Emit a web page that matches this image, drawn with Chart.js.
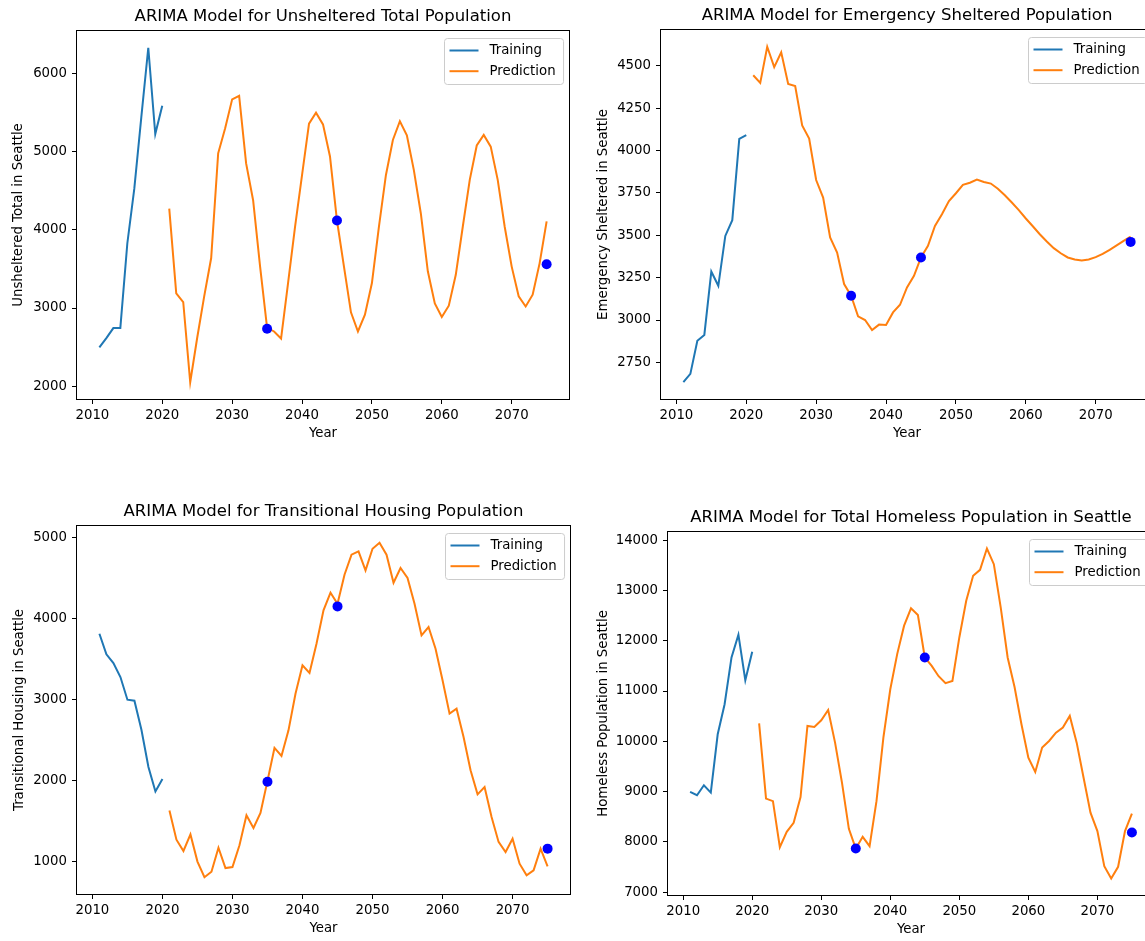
<!DOCTYPE html>
<html>
<head>
<meta charset="utf-8">
<script src="https://cdn.jsdelivr.net/npm/chart.js@4.4.1/dist/chart.umd.min.js"></script>
<style>
  body { margin: 0; background: #fff; overflow: hidden; width: 1145px; height: 941px; position: relative; }
  canvas { position: absolute; }
</style>
</head>
<body>
<canvas id="c1"></canvas>
<canvas id="c2"></canvas>
<canvas id="c3"></canvas>
<canvas id="c4"></canvas>
<script>
// Años
const trainYears = [2011, 2012, 2013, 2014, 2015, 2016, 2017, 2018, 2019, 2020];
const predYears = [
  2021, 2022, 2023, 2024, 2025, 2026, 2027, 2028, 2029, 2030,
  2031, 2032, 2033, 2034, 2035, 2036, 2037, 2038, 2039, 2040,
  2041, 2042, 2043, 2044, 2045, 2046, 2047, 2048, 2049, 2050,
  2051, 2052, 2053, 2054, 2055, 2056, 2057, 2058, 2059, 2060,
  2061, 2062, 2063, 2064, 2065, 2066, 2067, 2068, 2069, 2070,
  2071, 2072, 2073, 2074, 2075
];
const dotYears = [2035, 2045, 2075];
const xTicks = [2010, 2020, 2030, 2040, 2050, 2060, 2070];

// Unsheltered
const unshelteredTrain = [2497, 2616, 2743, 2743, 3826, 4527, 5439, 6331, 5227, 5588];
const unshelteredPred = [
  4272, 3189, 3077, 2050, 2620, 3150, 3640, 4980, 5300, 5670,
  5715, 4850, 4380, 3530, 2745, 2700, 2610, 3320, 4040, 4700,
  5360, 5500, 5350, 4940, 4120, 3530, 2945, 2700, 2915, 3320,
  4040, 4700, 5150, 5390, 5210, 4765, 4210, 3470, 3060, 2885,
  3030, 3425, 4040, 4640, 5080, 5215, 5065, 4640, 4040, 3530,
  3150, 3020, 3170, 3575, 4110
];
const unshelteredDots = [2735, 4120, 3560];
const unshelteredTicks = [2000, 3000, 4000, 5000, 6000];

// Emergency sheltered
const emergencyTrain = [2633, 2682, 2878, 2912, 3286, 3202, 3496, 3589, 4069, 4091];
const emergencyPred = [
  4444, 4399, 4612, 4492, 4579, 4393, 4380, 4148, 4071, 3826,
  3722, 3487, 3398, 3212, 3143, 3022, 3000, 2941, 2973, 2971,
  3045, 3090, 3192, 3261, 3369, 3438, 3555, 3624, 3702, 3748,
  3797, 3810, 3828, 3814, 3805, 3775, 3736, 3693, 3648, 3599,
  3553, 3506, 3463, 3424, 3394, 3369, 3357, 3351, 3357, 3371,
  3390, 3414, 3440, 3467, 3492
];
const emergencyDots = [3143, 3369, 3461];
const emergencyTicks = [2750, 3000, 3250, 3500, 3750, 4000, 4250, 4500];

// Transitional housing
const transitionalTrain = [3815, 3560, 3453, 3281, 3001, 2989, 2631, 2171, 1870, 2022];
const transitionalPred = [
  1634, 1275, 1135, 1340, 1004, 811, 880, 1176, 925, 937,
  1205, 1575, 1419, 1604, 2000, 2406, 2307, 2623, 3075, 3425,
  3330, 3692, 4103, 4320, 4185, 4543, 4790, 4830, 4596, 4863,
  4937, 4790, 4444, 4625, 4502, 4185, 3794, 3897, 3630, 3240,
  2829, 2890, 2540, 2130, 1834, 1924, 1555, 1247, 1123, 1287,
  979, 835, 897, 1164, 946
];
const transitionalDots = [1990, 4152, 1164];
const transitionalTicks = [1000, 2000, 3000, 4000, 5000];

// Total homeless
const totalTrain = [8993, 8927, 9126, 8980, 10140, 10737, 11667, 12120, 11215, 11780];
const totalPred = [
  10358, 8860, 8810, 7894, 8200, 8380, 8890, 10305, 10285, 10418,
  10624, 9973, 9177, 8260, 7868, 8100, 7914, 8810, 10073, 11035,
  11734, 12300, 12645, 12510, 11667, 11500, 11295, 11155, 11200, 12065,
  12795, 13290, 13410, 13834, 13522, 12660, 11667, 11080, 10340, 9675,
  9390, 9875, 10007, 10173, 10273, 10505, 9973, 9276, 8580, 8215,
  7518, 7272, 7505, 8215, 8560
];
const totalDots = [7868, 11667, 8186];
const totalTicks = [7000, 8000, 9000, 10000, 11000, 12000, 13000, 14000];

const FONT = '"DejaVu Sans", sans-serif';

// Marco completo alrededor del área del gráfico
const framePlugin = {
  id: 'frame',
  afterDatasetsDraw(chart) {
    const {ctx, chartArea: a} = chart;
    ctx.save();
    ctx.strokeStyle = '#000';
    ctx.lineWidth = 1;
    ctx.strokeRect(Math.round(a.left) - 0.5, Math.round(a.top) - 0.5,
      Math.round(a.right) - Math.round(a.left) + 1, Math.round(a.bottom) - Math.round(a.top) + 1);
    ctx.restore();
  }
};

// Leyenda estilo matplotlib (arriba a la derecha)
const legendPlugin = {
  id: 'mplLegend',
  afterDraw(chart) {
    const {ctx, chartArea: a} = chart;
    const items = chart.data.datasets.filter(d => d.showLine);
    ctx.save();
    ctx.font = '13.3px ' + FONT;
    const textW = Math.max(...items.map(d => ctx.measureText(d.label).width));
    const w = 45 + textW + 8, h = 46;
    const x = Math.round(a.right - 6 - w) + 0.5, y = Math.round(a.top + 7) + 0.5;
    ctx.beginPath();
    ctx.roundRect(x, y, w, h, 3);
    ctx.fillStyle = 'rgba(255,255,255,0.8)';
    ctx.fill();
    ctx.strokeStyle = '#cccccc';
    ctx.lineWidth = 1;
    ctx.stroke();
    items.forEach((d, i) => {
      const cy = y + 12 + i * 20.7;
      ctx.strokeStyle = d.borderColor;
      ctx.lineWidth = 2;
      ctx.beginPath();
      ctx.moveTo(x + 5, cy);
      ctx.lineTo(x + 34, cy);
      ctx.stroke();
      ctx.fillStyle = '#000';
      ctx.textBaseline = 'middle';
      ctx.fillText(d.label, x + 45, cy + 0.5);
    });
    ctx.restore();
  }
};

function toPoints(xs, ys) {
  return xs.map((x, i) => ({x: x, y: ys[i]}));
}

function paddedRange(values) {
  const lo = Math.min(...values), hi = Math.max(...values);
  const m = (hi - lo) * 0.05;
  return [lo - m, hi + m];
}

function makeChart(id, box, title, yLabel, train, pred, dots, yTicks) {
  const canvas = document.getElementById(id);
  canvas.width = box.w;
  canvas.height = box.h;
  canvas.style.left = box.left + 'px';
  canvas.style.top = box.top + 'px';

  const allX = trainYears.concat(predYears, dotYears);
  const [xMin, xMax] = paddedRange(allX);
  const [yMin, yMax] = paddedRange(train.concat(pred, dots));

  return new Chart(canvas, {
    type: 'scatter',
    data: {
      datasets: [
        {
          label: 'Dots',
          data: toPoints(dotYears, dots),
          showLine: false,
          pointRadius: 5,
          pointHoverRadius: 5,
          pointBackgroundColor: '#0000ff',
          pointBorderWidth: 0,
          order: 0
        },
        {
          label: 'Training',
          data: toPoints(trainYears, train),
          showLine: true,
          borderColor: '#1f77b4',
          borderWidth: 2,
          pointRadius: 0,
          tension: 0,
          order: 1
        },
        {
          label: 'Prediction',
          data: toPoints(predYears, pred),
          showLine: true,
          borderColor: '#ff7f0e',
          borderWidth: 2,
          pointRadius: 0,
          tension: 0,
          order: 1
        }
      ]
    },
    options: {
      responsive: false,
      animation: false,
      layout: { padding: { left: 0, top: 0, right: 10, bottom: 0 } },
      plugins: {
        legend: { display: false },
        tooltip: { enabled: false },
        title: {
          display: true,
          fullSize: false,
          text: title,
          color: '#000',
          font: { family: FONT, size: 16.5, weight: 'normal' },
          padding: { top: 7.2, bottom: 4 }
        }
      },
      scales: {
        x: {
          type: 'linear',
          min: xMin,
          max: xMax,
          afterBuildTicks: axis => { axis.ticks = xTicks.map(v => ({value: v})); },
          afterFit: axis => { axis.height = 45; },
          ticks: {
            color: '#000',
            font: { family: FONT, size: 13.3 },
            padding: 4,
            maxRotation: 0,
            callback: v => String(v)
          },
          grid: { drawOnChartArea: false, drawTicks: true, tickLength: 5, color: '#000' },
          border: { display: false },
          title: {
            display: true,
            text: 'Year',
            color: '#000',
            font: { family: FONT, size: 13.3 },
            padding: { top: 0, bottom: 2.5 }
          }
        },
        y: {
          type: 'linear',
          min: yMin,
          max: yMax,
          afterBuildTicks: axis => { axis.ticks = yTicks.map(v => ({value: v})); },
          afterFit: axis => { axis.width = 77; },
          ticks: {
            color: '#000',
            font: { family: FONT, size: 13.3 },
            padding: 5,
            callback: v => String(v)
          },
          grid: { drawOnChartArea: false, drawTicks: true, tickLength: 5, color: '#000' },
          border: { display: false },
          title: {
            display: true,
            text: yLabel,
            color: '#000',
            font: { family: FONT, size: 13.3 },
            padding: { top: box.ylPad, bottom: 0 }
          }
        }
      }
    },
    plugins: [framePlugin, legendPlugin]
  });
}

makeChart('c1', {left: 0, top: 0, w: 579, h: 444, ylPad: 10.7},
  'ARIMA Model for Unsheltered Total Population', 'Unsheltered Total in Seattle',
  unshelteredTrain, unshelteredPred, unshelteredDots, unshelteredTicks);

makeChart('c2', {left: 584, top: -1, w: 579, h: 445, ylPad: 11.2},
  'ARIMA Model for Emergency Sheltered Population', 'Emergency Sheltered in Seattle',
  emergencyTrain, emergencyPred, emergencyDots, emergencyTicks);

makeChart('c3', {left: 0, top: 495, w: 580, h: 444, ylPad: 11.2},
  'ARIMA Model for Transitional Housing Population', 'Transitional Housing in Seattle',
  transitionalTrain, transitionalPred, transitionalDots, transitionalTicks);

makeChart('c4', {left: 591, top: 501, w: 573, h: 439, ylPad: 4.2},
  'ARIMA Model for Total Homeless Population in Seattle', 'Homeless Population in Seattle',
  totalTrain, totalPred, totalDots, totalTicks);
</script>
</body>
</html>
